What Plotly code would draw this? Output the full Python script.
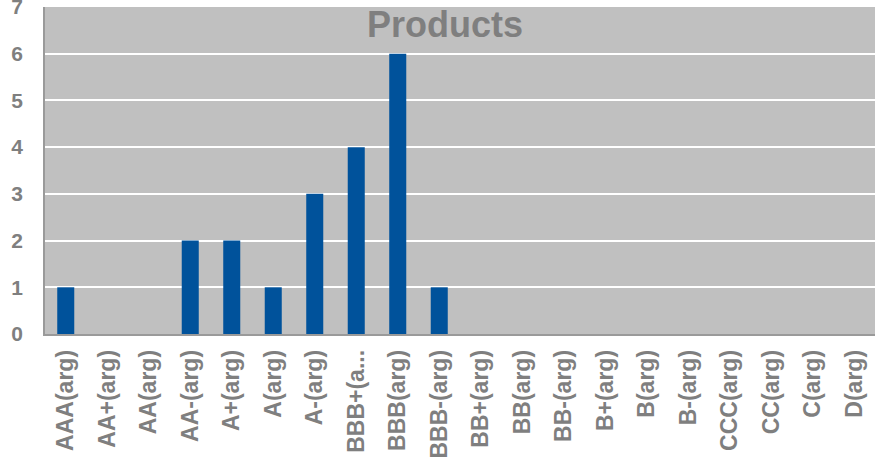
import plotly.graph_objects as go

categories = ["AAA(arg)", "AA+(arg)", "AA(arg)", "AA-(arg)", "A+(arg)", "A(arg)", "A-(arg)",
              "BBB+(arg)", "BBB(arg)", "BBB-(arg)", "BB+(arg)", "BB(arg)", "BB-(arg)",
              "B+(arg)", "B(arg)", "B-(arg)", "CCC(arg)", "CC(arg)", "C(arg)", "D(arg)"]
tick_labels = ["AAA(arg)", "AA+(arg)", "AA(arg)", "AA-(arg)", "A+(arg)", "A(arg)", "A-(arg)",
               "BBB+(a...", "BBB(arg)", "BBB-(arg)", "BB+(arg)", "BB(arg)", "BB-(arg)",
               "B+(arg)", "B(arg)", "B-(arg)", "CCC(arg)", "CC(arg)", "C(arg)", "D(arg)"]
values = [1, 0, 0, 2, 2, 1, 3, 4, 6, 1, 0, 0, 0, 0, 0, 0, 0, 0, 0, 0]
y_ticks = [0, 1, 2, 3, 4, 5, 6, 7]

FONT = "Liberation Sans, Arial, sans-serif"
GRAY = "#7f7f7f"

fig = go.Figure(go.Bar(x=categories, y=values, marker=dict(color="#00529B", line=dict(width=0)),
                       width=0.41))

fig.update_layout(
    width=875, height=462,
    margin=dict(l=45, r=0, t=7, b=128, autoexpand=False),
    paper_bgcolor="white", plot_bgcolor="#C0C0C0",
    showlegend=False,
    font=dict(family=FONT, color=GRAY),
    annotations=[dict(text="<b>Products</b>", x=0.482, y=0.948, xref="paper", yref="paper",
                      showarrow=False, xanchor="center", yanchor="middle",
                      font=dict(family=FONT, size=36, color=GRAY))],
)
fig.update_xaxes(
    type="category", tickmode="array", tickvals=categories,
    ticktext=["<b>%s</b>" % t for t in tick_labels],
    tickangle=-90, tickfont=dict(family=FONT, size=23, color=GRAY),
    showgrid=False, showline=True, linecolor="#9a9a9a", linewidth=1.5,
    ticks="", ticklabelstandoff=5, range=[-0.5, 19.5], automargin=False,
)
fig.update_yaxes(
    range=[0, 7], tickmode="array", tickvals=y_ticks,
    ticktext=["<b>%d</b>" % v for v in y_ticks],
    showgrid=True, gridcolor="white", gridwidth=1.5,
    zeroline=False, showline=True, linecolor="#9a9a9a", linewidth=1.5,
    tickfont=dict(family=FONT, size=21, color=GRAY),
    ticks="", ticklabelstandoff=16, ticklabeloverflow="allow", automargin=False,
)

fig.write_html("out.html")
